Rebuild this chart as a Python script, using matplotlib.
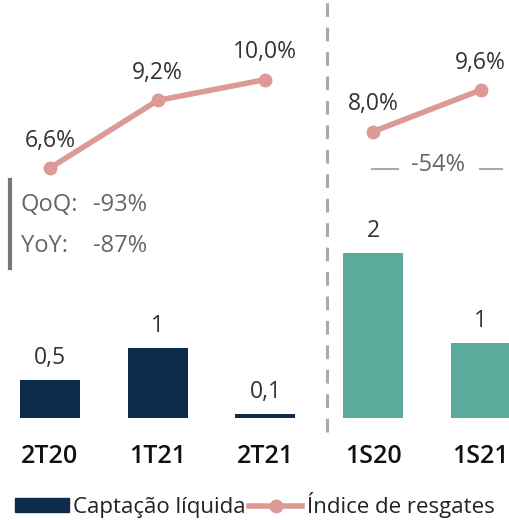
import numpy as np
import matplotlib.pyplot as plt
from matplotlib.lines import Line2D
from matplotlib.patches import Patch

plt.rcParams['font.family'] = ['Open Sans', 'DejaVu Sans']

# ---- data ----
periods = ['2T20', '1T21', '2T21', '1S20', '1S21']
captacao = [0.54, 1.0, 0.06, 2.36, 1.07]
captacao_lbl = ['0,5', '1', '0,1', '2', '1']
resgates_q = [6.6, 9.2, 10.0]
resgates_s = [8.0, 9.6]
var_labels = ['QoQ:', 'YoY:']
var_values = ['-93%', '-87%']
sem_var = '-54%'

navy = '#0b2d4b'
teal = '#5aab9c'
pink = '#dc9a96'
grey = '#666666'
bar_colors = [navy] * 3 + [teal] * 2

W, H = 510, 520
fig = plt.figure(figsize=(W / 100, H / 100), dpi=100)

base_px = 102      # bar baseline from bottom
bar_scale = 70     # px per unit
step_px = 107.7    # px between categories
first_px = 50
line_scale = 26    # px per %
line_y0 = 352      # px of 6.6%

ax = fig.add_axes([0, 0, 1, 1])
ax.set_xlim(-first_px / step_px, (W - first_px) / step_px)
ax.set_ylim(-base_px / bar_scale, (H - base_px) / bar_scale)
x = np.arange(len(periods))
ax.bar(x, captacao, width=60 / step_px, color=bar_colors)
for xi, v, t in zip(x, captacao, captacao_lbl):
    ax.annotate(t, (xi, v), xytext=(0, 7), textcoords='offset points',
                ha='center', va='bottom', fontsize=16.5, color='#333333')
for xi, c in zip(x, periods):
    ax.annotate(c, (xi, 0), xytext=(0, -28), textcoords='offset points',
                ha='center', va='center', fontsize=18, fontweight='semibold', color='#111111')
ax.axis('off')

ax2 = ax.twinx()
lo = 6.6 - line_y0 / line_scale
ax2.set_ylim(lo, lo + H / line_scale)
ax2.set_axis_off()
for lx, res in [(x[:3], resgates_q), (x[3:], resgates_s)]:
    ax2.plot(lx, res, color=pink, lw=4, marker='o', ms=9, solid_capstyle='round')
    for xi, v in zip(lx, res):
        ax2.annotate(f'{v:.1f}%'.replace('.', ','), (xi, v), xytext=(0, 11),
                     textcoords='offset points', ha='center', va='bottom',
                     fontsize=16.5, color='#333333')

# divider and annotations (figure pixel coords)
fig.add_artist(Line2D([327 / W, 327 / W], [88 / H, 1], color='#aaaaaa', lw=2.2,
                      dashes=(4.5, 3.5)))
fig.add_artist(Line2D([10 / W, 10 / W], [(H - 268) / H, (H - 180) / H], color='#777777', lw=3))
for i, (a, b) in enumerate(zip(var_labels, var_values)):
    y = (H - 205 - 41 * i) / H
    fig.text(21 / W, y, a, fontsize=17, color=grey, va='center')
    fig.text(93 / W, y, b, fontsize=17, color=grey, va='center')
fig.text(438 / W, (H - 165) / H, sem_var, fontsize=17, color=grey, ha='center', va='center')
fig.add_artist(Line2D([372 / W, 398 / W], [(H - 169) / H] * 2, color='#aaaaaa', lw=1.5))
fig.add_artist(Line2D([480 / W, 502 / W], [(H - 169) / H] * 2, color='#aaaaaa', lw=1.5))

handles = [Patch(color=navy), Line2D([], [], color=pink, lw=4, marker='o', ms=9)]
fig.legend(handles, ['Captação líquida', 'Índice de resgates'], loc='lower center',
           bbox_to_anchor=(0.5, -0.035), ncol=2, frameon=False, fontsize=16,
           handlelength=2.4, handleheight=0.6, handletextpad=0.2, columnspacing=0.15,
           labelcolor='#222222')

fig.savefig('out.png', dpi=100)
